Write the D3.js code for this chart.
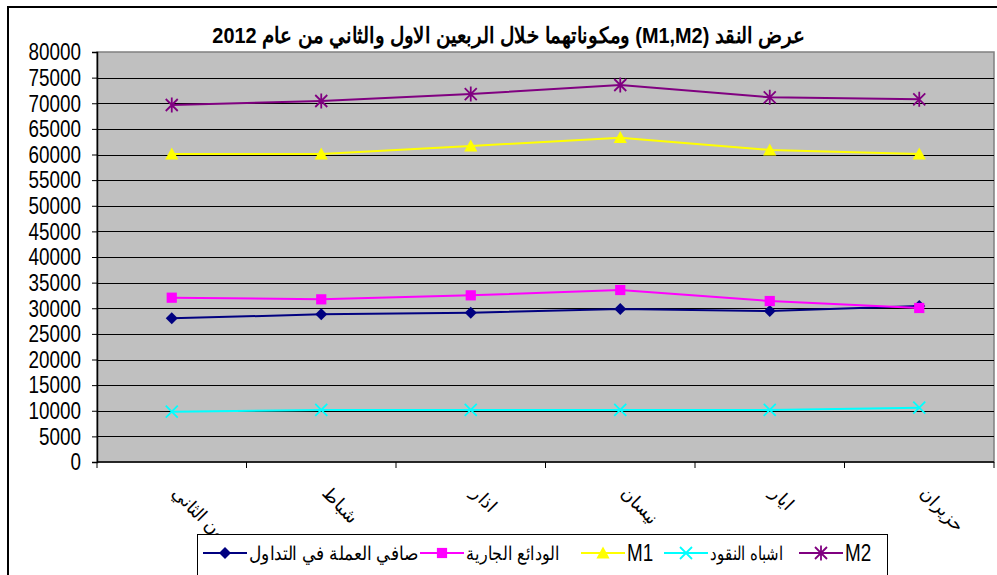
<!DOCTYPE html>
<html>
<head>
<meta charset="utf-8">
<script src="https://cdn.jsdelivr.net/npm/d3@7"></script>
<style>
  body { margin: 0; background: #fff; }
  text { font-family: "Liberation Sans", Arial, sans-serif; }
</style>
</head>
<body>
<div id="chart"></div>
<script>
// months (Jan..Jun 2012)
const months = ["كانون الثاني", "شباط", "اذار", "نيسان", "ايار", "حزيران"];
const yTicks = d3.range(0, 80001, 5000);

// series values (millions)
const currency = [28030, 28810, 29140, 29850, 29460, 30440];   // صافي العملة في التداول
const deposits = [32060, 31740, 32520, 33560, 31410, 30050];   // الودائع الجارية
const m1 = [60100, 60100, 61660, 63280, 60880, 60100];
const quasi = [9820, 10150, 10150, 10150, 10150, 10600];       // اشباه النقود
const m2 = [69660, 70440, 71800, 73560, 71160, 70770];

const series = [
  {name: "صافي العملة في التداول", values: currency, color: "#000080", marker: "diamond"},
  {name: "الودائع الجارية", values: deposits, color: "#ff00ff", marker: "square"},
  {name: "M1", values: m1, color: "#ffff00", marker: "triangle"},
  {name: "اشباه النقود", values: quasi, color: "#00ffff", marker: "x"},
  {name: "M2", values: m2, color: "#800080", marker: "star"}
];

const W = 997, H = 575;
const plot = {left: 97, right: 994, top: 52, bottom: 462};
const narrow = 0.82; // excel-ish condensed text

const svg = d3.select("#chart").append("svg")
  .attr("width", W)
  .attr("height", H);

// squeeze a text node horizontally so it is w wide
function squeeze(t, x0, y0, w) {
  const len = t.node().getComputedTextLength();
  const k = w ? w / len : narrow;
  t.attr("x", 0).attr("y", 0)
    .attr("transform", "translate(" + x0 + "," + y0 + ") scale(" + k + ",1)");
  return t;
}

// chart area border
svg.append("rect")
  .attr("x", 8).attr("y", 7)
  .attr("width", W + 20).attr("height", H + 20)
  .attr("fill", "#fff")
  .attr("stroke", "#000")
  .attr("stroke-width", 2);

const x = d3.scaleBand().domain(months).range([plot.left, plot.right]);
const y = d3.scaleLinear().domain([0, 80000]).range([plot.bottom, plot.top]);

// plot background
svg.append("rect")
  .attr("x", plot.left).attr("y", plot.top)
  .attr("width", plot.right - plot.left).attr("height", plot.bottom - plot.top)
  .attr("fill", "#c0c0c0")
  .attr("stroke", "#808080")
  .attr("stroke-width", 1.5);

// gridlines
svg.append("g").selectAll("line")
  .data(yTicks.slice(1, -1))
  .enter().append("line")
  .attr("x1", plot.left).attr("x2", plot.right)
  .attr("y1", d => Math.round(y(d)) + 0.5)
  .attr("y2", d => Math.round(y(d)) + 0.5)
  .attr("stroke", "#000")
  .attr("stroke-width", 1);

// y axis (labels drawn separately so they can be condensed)
const yAxis = svg.append("g")
  .attr("transform", "translate(" + plot.left + ",0)")
  .call(d3.axisLeft(y).tickValues(yTicks).tickSize(5).tickFormat(""));
yAxis.select(".domain").attr("stroke", "#000").attr("stroke-width", 1.5);
yAxis.selectAll(".tick line").attr("stroke", "#000");

svg.append("g").selectAll("text")
  .data(yTicks)
  .enter().append("text")
  .attr("text-anchor", "end")
  .attr("dy", "0.36em")
  .attr("font-size", 23)
  .attr("fill", "#000")
  .text(d => d3.format("d")(d))
  .each(function(d) { squeeze(d3.select(this), 81, y(d), null); });

// x axis: tick marks at category boundaries
const bounds = months.map(m => x(m)).concat([plot.right]);
svg.append("line")
  .attr("x1", plot.left).attr("x2", plot.right)
  .attr("y1", plot.bottom).attr("y2", plot.bottom)
  .attr("stroke", "#000").attr("stroke-width", 1.5);
svg.append("g").selectAll("line")
  .data(bounds)
  .enter().append("line")
  .attr("x1", d => d).attr("x2", d => d)
  .attr("y1", plot.bottom).attr("y2", plot.bottom + 6)
  .attr("stroke", "#000");

// x labels, rotated
svg.append("g").selectAll("text")
  .data(months)
  .enter().append("text")
  .attr("transform", d => "translate(" + (x(d) + x.bandwidth() / 2 + 4) + "," + (plot.bottom + 28) + ") rotate(45)")
  .attr("text-anchor", "start")
  .attr("dy", "0.35em")
  .attr("font-size", 18)
  .attr("fill", "#000")
  .text(d => d);

// markers
function drawMarker(g, type, color, size) {
  const s = size;
  if (type === "diamond") {
    g.append("path").attr("d", `M0,${-s}L${s},0L0,${s}L${-s},0Z`).attr("fill", color);
  } else if (type === "square") {
    g.append("rect").attr("x", -s * 0.85).attr("y", -s * 0.85).attr("width", s * 1.7).attr("height", s * 1.7).attr("fill", color);
  } else if (type === "triangle") {
    g.append("path").attr("d", `M0,${-s * 1.1}L${s * 1.1},${s * 0.9}L${-s * 1.1},${s * 0.9}Z`).attr("fill", color);
  } else if (type === "x") {
    g.append("path").attr("d", `M${-s},${-s}L${s},${s}M${-s},${s}L${s},${-s}`).attr("stroke", color).attr("stroke-width", 1.8).attr("fill", "none");
  } else if (type === "star") {
    g.append("path").attr("d", `M${-s},${-s}L${s},${s}M${-s},${s}L${s},${-s}M0,${-s * 1.25}L0,${s * 1.25}`).attr("stroke", color).attr("stroke-width", 1.8).attr("fill", "none");
  }
}

const line = d3.line()
  .x((d, i) => x(months[i]) + x.bandwidth() / 2)
  .y(d => y(d));

series.forEach(s => {
  svg.append("path")
    .datum(s.values)
    .attr("d", line)
    .attr("fill", "none")
    .attr("stroke", s.color)
    .attr("stroke-width", 2);
  s.values.forEach((v, i) => {
    const g = svg.append("g")
      .attr("transform", "translate(" + (x(months[i]) + x.bandwidth() / 2) + "," + y(v) + ")");
    drawMarker(g, s.marker, s.color, 6);
  });
});

// title
const title = svg.append("text")
  .attr("text-anchor", "middle")
  .attr("direction", "rtl")
  .attr("font-size", 22)
  .attr("font-weight", "bold")
  .attr("fill", "#000")
  .text("عرض النقد (M1,M2) ومكوناتهما خلال الربعين الاول والثاني من عام 2012");
squeeze(title, 509, 43, 598);

// legend
const legend = svg.append("g");
legend.append("rect")
  .attr("x", 197.5).attr("y", 534.5)
  .attr("width", 690).attr("height", 60)
  .attr("fill", "#fff")
  .attr("stroke", "#000")
  .attr("stroke-width", 1);

const legendX = [203, 420, 581, 664, 799];   // left end of each sample line
const legendW = [170, 90, null, 73, null];   // width of each label
series.forEach((s, i) => {
  const lx = legendX[i];
  const g = legend.append("g").attr("transform", "translate(" + lx + ",553)");
  g.append("line").attr("x1", 0).attr("x2", 44).attr("y1", 0).attr("y2", 0)
    .attr("stroke", s.color).attr("stroke-width", 2);
  const m = g.append("g").attr("transform", "translate(22,0)");
  drawMarker(m, s.marker, s.color, 6);
  const t = g.append("text")
    .attr("dy", "0.35em")
    .attr("font-size", legendW[i] ? 19 : 23)
    .attr("fill", "#000")
    .text(s.name);
  squeeze(t, 46, 0, legendW[i]);
});
</script>
</body>
</html>
